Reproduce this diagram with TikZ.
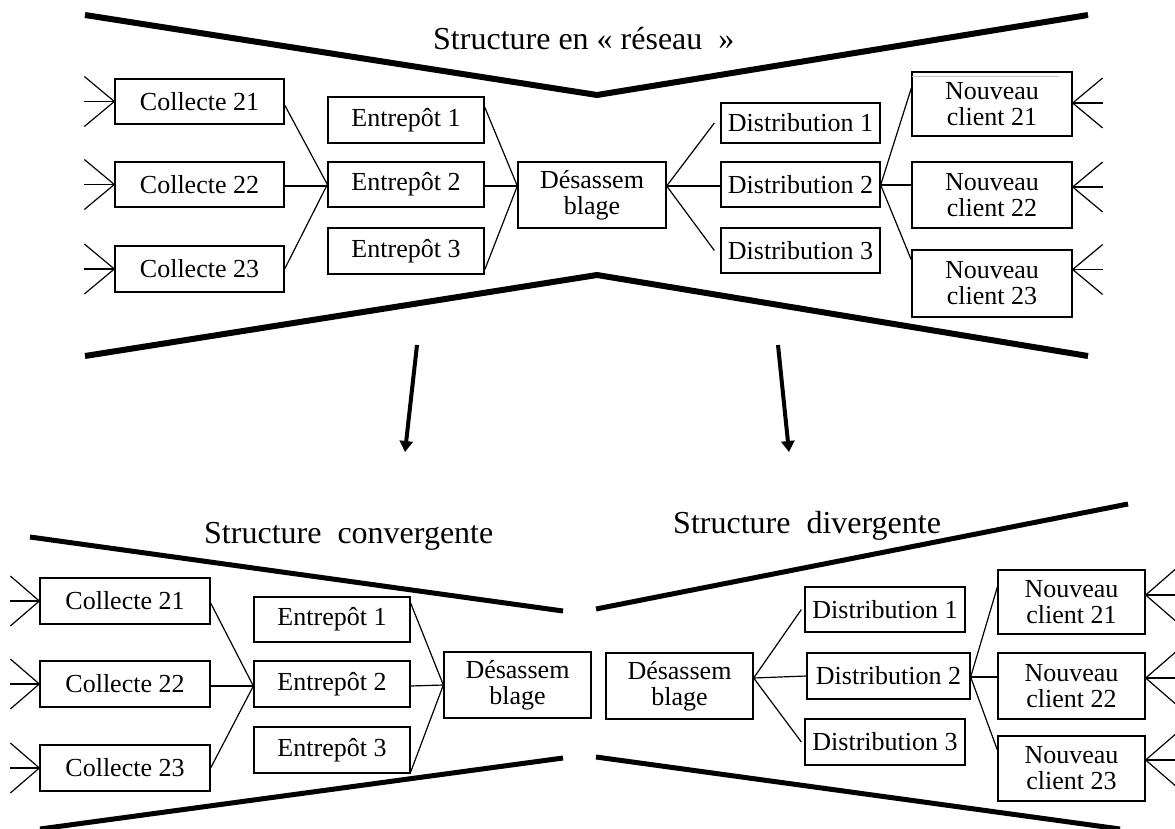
\documentclass[tikz,border=0pt]{standalone}
\usepackage{fontspec}
\setmainfont{Liberation Serif}
\usetikzlibrary{arrows.meta}
\begin{document}
\begin{tikzpicture}[x=1pt,y=-1pt,
  box/.style={draw, line width=1.3pt, inner sep=0pt, align=center, font=\fontsize{26}{26}\selectfont},
  conn/.style={line width=1.2pt},
  bar/.style={line width=6pt},
  barthin/.style={line width=5pt},
  ttl/.style={font=\fontsize{32}{32}\selectfont, anchor=base west, inner sep=0pt},
  bigarrow/.style={line width=4pt, -{Triangle[width=13pt,length=11pt]}}]
\useasboundingbox (0,0) rectangle (1175,829);

% ---------------- top: structure en reseau ----------------
\node[ttl] (t0) at (433,50) {Structure en «~réseau~~»};
\draw[bar] (85,15) -- (597,95) -- (1088,15);
\draw[bar] (85,356) -- (597,275) -- (1088,356);

\node[box, minimum width=169, minimum height=45] (tc21) at (199.5,101.5) {Collecte 21};
\node[box, minimum width=169, minimum height=45] (tc22) at (199.5,184.5) {Collecte 22};
\node[box, minimum width=169, minimum height=46] (tc23) at (199.5,269) {Collecte 23};
\node[box, minimum width=156, minimum height=46] (te1) at (406,120) {Entrepôt 1};
\node[box, minimum width=156, minimum height=45] (te2) at (406,184.5) {Entrepôt 2};
\node[box, minimum width=156, minimum height=46] (te3) at (406,251) {Entrepôt 3};
\node[box, minimum width=148, minimum height=66] (td) at (592,195) {Désassem\\blage};
\node[box, minimum width=159, minimum height=40] (tdi1) at (800.5,123) {Distribution 1};
\node[box, minimum width=159, minimum height=45] (tdi2) at (800.5,184.5) {Distribution 2};
\node[box, minimum width=159, minimum height=45] (tdi3) at (800.5,250.5) {Distribution 3};
\node[box, minimum width=160, minimum height=64] (tn1) at (992,104) {Nouveau\\client 21};
\node[box, minimum width=160, minimum height=66] (tn2) at (992,195) {Nouveau\\client 22};
\node[box, minimum width=160, minimum height=67] (tn3) at (992,283.5) {Nouveau\\client 23};
\draw[gray!45, line width=0.8pt] ([xshift=1pt,yshift=-5pt]tn1.north west) -- ([xshift=-14pt,yshift=-5pt]tn1.north east);

\draw[conn] ([yshift=-3.5pt]tc21.east) -- (te2.west);
\draw[conn] ([yshift=-1.5pt]tc22.east) -- ([yshift=-1.5pt]te2.west);
\draw[conn] ([yshift=0pt]tc23.east) -- (te2.west);
\draw[conn] ([yshift=13pt]te1.east) -- ([yshift=9pt]td.west);
\draw[conn] ([yshift=-1.5pt]te2.east) -- ([yshift=9pt]td.west);
\draw[conn] ([yshift=-19pt]te3.east) -- ([yshift=9pt]td.west);
\draw[conn] ([yshift=9pt]td.east) -- ([xshift=-6pt]tdi1.west);
\draw[conn] ([yshift=9pt]td.east) -- ([yshift=-1.5pt]tdi2.west);
\draw[conn] ([yshift=9pt]td.east) -- ([xshift=-6pt]tdi3.west);
\draw[conn] ([yshift=-0.5pt]tdi2.east) -- ([yshift=16pt]tn1.west);
\draw[conn] ([yshift=-0.5pt]tdi2.east) -- ([yshift=10pt]tn2.west);
\draw[conn] ([yshift=-0.5pt]tdi2.east) -- ([yshift=23.5pt]tn3.west);

\foreach \n in {tc21,tc22,tc23}{
  \draw[conn] (\n.west) -- ++(-30,-25);
  \draw[conn] (\n.west) -- ++(-30,0);
  \draw[conn] (\n.west) -- ++(-30,25);
}
\foreach \n/\s in {tn1/1,tn2/8,tn3/14}{
  \draw[conn] ([yshift=\s pt]\n.east) -- ++(30,-25);
  \draw[conn] ([yshift=\s pt]\n.east) -- ++(30,0);
  \draw[conn] ([yshift=\s pt]\n.east) -- ++(30,25);
}

% ---------------- arrows ----------------
\coordinate (a1s) at (417,345);
\coordinate (a1e) at (405,452);
\coordinate (a2s) at (778,345);
\coordinate (a2e) at (789,452);
\draw[bigarrow] (a1s) -- (a1e);
\draw[bigarrow] (a2s) -- (a2e);

% ---------------- bottom left: convergente ----------------
\node[ttl] (b0) at (204,543) {Structure~~convergente};
\draw[barthin] (30,537) -- (563,611);
\draw[barthin] (40,829) -- (563,758);

\node[box, minimum width=170, minimum height=46] (bc21) at (125,601) {Collecte 21};
\node[box, minimum width=170, minimum height=46] (bc22) at (125,684) {Collecte 22};
\node[box, minimum width=170, minimum height=46] (bc23) at (125,768) {Collecte 23};
\node[box, minimum width=156, minimum height=45] (be1) at (332,619.5) {Entrepôt 1};
\node[box, minimum width=156, minimum height=46] (be2) at (332,684) {Entrepôt 2};
\node[box, minimum width=156, minimum height=46] (be3) at (332,750) {Entrepôt 3};
\node[box, minimum width=147, minimum height=66] (bd) at (517.5,685) {Désassem\\blage};

\draw[conn] ([yshift=-2pt]bc21.east) -- ([yshift=-2pt]be2.west);
\draw[conn] ([yshift=-2pt]bc22.east) -- ([yshift=-2pt]be2.west);
\draw[conn] (bc23.east) -- ([yshift=-2pt]be2.west);
\draw[conn] ([yshift=16.5pt]be1.east) -- (bd.west);
\draw[conn] ([yshift=-2pt]be2.east) -- (bd.west);
\draw[conn] ([yshift=-22pt]be3.east) -- (bd.west);

\foreach \n in {bc21,bc22,bc23}{
  \draw[conn] (\n.west) -- ++(-29,-25);
  \draw[conn] (\n.west) -- ++(-29,0);
  \draw[conn] (\n.west) -- ++(-29,25);
}

% ---------------- bottom right: divergente ----------------
\node[ttl] (c0) at (673,533) {Structure~~divergente};
\draw[barthin] (596,609) -- (1128,504);
\draw[barthin] (596,757) -- (1120,829);

\node[box, minimum width=147, minimum height=66] (bd2) at (679.5,686) {Désassem\\blage};
\node[box, minimum width=160, minimum height=45] (bdi1) at (885,609.5) {Distribution 1};
\node[box, minimum width=163, minimum height=46] (bdi2) at (888.5,676) {Distribution 2};
\node[box, minimum width=160, minimum height=46] (bdi3) at (885,742) {Distribution 3};
\node[box, minimum width=147, minimum height=64] (bn1) at (1071.5,602) {Nouveau\\client 21};
\node[box, minimum width=147, minimum height=66] (bn2) at (1071.5,686) {Nouveau\\client 22};
\node[box, minimum width=147, minimum height=65] (bn3) at (1071.5,768.5) {Nouveau\\client 23};

\draw[conn] ([yshift=8pt]bd2.east) -- ([xshift=-3pt]bdi1.west);
\draw[conn] ([yshift=8pt]bd2.east) -- (bdi2.west);
\draw[conn] ([yshift=8pt]bd2.east) -- ([xshift=-3pt]bdi3.west);
\draw[conn] ([yshift=-1pt]bdi2.east) -- ([yshift=15pt]bn1.west);
\draw[conn] ([yshift=-1pt]bdi2.east) -- ([yshift=9pt]bn2.west);
\draw[conn] ([yshift=-1pt]bdi2.east) -- ([yshift=18.5pt]bn3.west);

\foreach \n/\s in {bn1/7,bn2/8,bn3/8.5}{
  \draw[conn] ([yshift=\s pt]\n.east) -- ++(30,-26);
  \draw[conn] ([yshift=\s pt]\n.east) -- ++(30,0);
  \draw[conn] ([yshift=\s pt]\n.east) -- ++(30,26);
}
\end{tikzpicture}
\end{document}
